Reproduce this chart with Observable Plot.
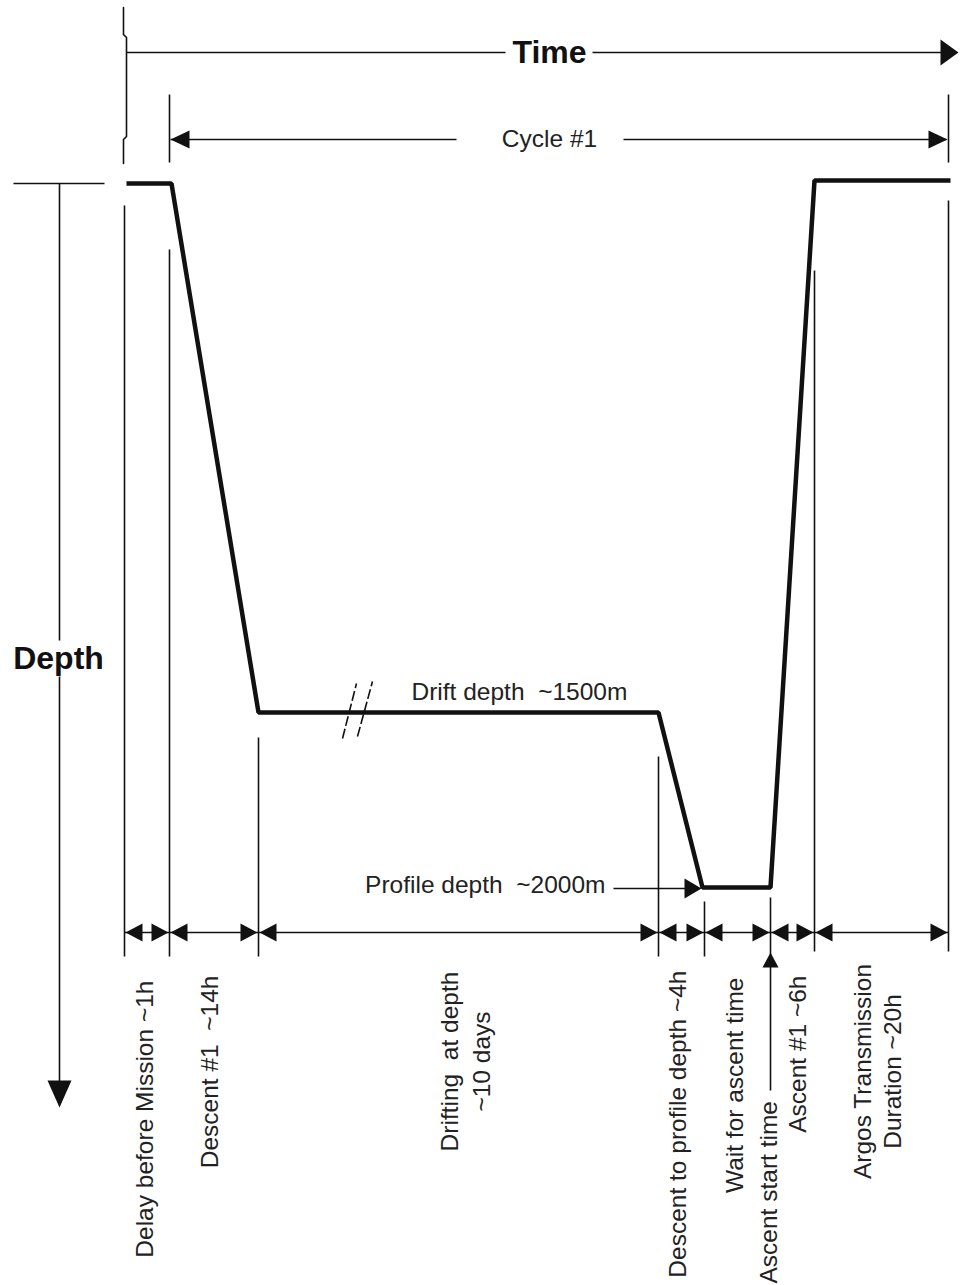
<!DOCTYPE html>
<html><head><meta charset="utf-8">
<script src="https://cdn.jsdelivr.net/npm/d3@7"></script>
<script src="https://cdn.jsdelivr.net/npm/@observablehq/plot@0.6"></script>
<style>body{margin:0;background:#fff} svg{display:block}</style>
</head><body><div id="chart"></div>
<script>
// ---- data (diagram units: time runs along x, depth along y) ----
const boundaries      = [124, 169, 258, 658, 704, 770, 814, 948];
const boundaryTops    = [205, 249, 737, 756, 901, 897, 270, 200];
const boundaryBottoms = [956, 956, 956, 956, 956, 956, 951, 951];
const rowY = 932; // duration arrows row

const profileTime  = [126, 171, 258, 658, 702, 770, 814, 950];
const profileDepth = [183, 183, 712, 712, 887, 887, 180, 180];

const phaseTexts   = ["Delay before Mission ~1h", "Descent #1  ~14h", "Drifting  at depth", "~10 days",
                      "Descent to profile depth ~4h", "Wait for ascent time", "Ascent start time",
                      "Ascent #1 ~6h", "Argos Transmission", "Duration ~20h"];
const phaseTextX   = [145, 210, 450, 482, 678, 735, 769, 798, 863, 893];
const phaseTextY   = [980, 975, 1061, 1061, 970, 977, 1283, 975, 1071, 1071];
const phaseAnchors = ["end", "end", "middle", "middle", "end", "end", "start", "end", "middle", "middle"];

const timeSegments  = [[126, 505], [592, 945]];   // y = 52
const cycleSegments = [[170, 456], [623, 946]];   // y = 139
const depthSegments = [[183, 640], [676, 1085]];  // x = 59
const bracket = [[123, 7], [123, 34], [126, 37], [126, 136], [123, 139], [123, 163]];
const breakMarks = [[342, 738, 356, 683], [357, 736, 372, 681]];

// ---- arrowhead symbols (tip at origin) ----
function head(dir, len, half) {
  return {draw(ctx) {
    const pts = {
      right: [[0,0],[-len,-half],[-len,half]],
      left:  [[0,0],[len,-half],[len,half]],
      up:    [[0,0],[-half,len],[half,len]],
      down:  [[0,0],[-half,-len],[half,-len]]
    }[dir];
    ctx.moveTo(pts[0][0], pts[0][1]);
    ctx.lineTo(pts[1][0], pts[1][1]);
    ctx.lineTo(pts[2][0], pts[2][1]);
    ctx.closePath();
  }};
}

const ink = "#111";
const font = "'Liberation Sans', Arial, sans-serif";
const fs = 24.5;

const labels = phaseTexts.map((t, i) => ({text: t, x: phaseTextX[i], y: phaseTextY[i], anchor: phaseAnchors[i]}));
const pairs = d3.pairs(boundaries).map(([a, b]) => ({a, b}));
const verticals = boundaries.map((x, i) => ({x, y1: boundaryTops[i], y2: boundaryBottoms[i]}));
const profile = profileTime.map((x, i) => ({x, y: profileDepth[i]}));

const hline = (segs, y) => segs.map(([x1, x2]) => ({x1, x2, y1: y, y2: y}));
const linkOpts = {x1: "x1", x2: "x2", y1: "y1", y2: "y2", stroke: ink, strokeWidth: 1.6};

const marks = [
  // top "Time" arrow
  Plot.link(hline(timeSegments, 52), linkOpts),
  Plot.dot([{x: 958, y: 52}], {x: "x", y: "y", symbol: head("right", 18, 13), fill: ink, stroke: null}),
  Plot.text(["Time"], {x: 549, y: 52, text: d => d, fontSize: 32, fontWeight: "bold", fontFamily: font, fill: ink}),
  Plot.line(bracket, {x: d => d[0], y: d => d[1], stroke: ink, strokeWidth: 1.6}),

  // Cycle #1
  Plot.link(hline(cycleSegments, 139), linkOpts),
  Plot.link([169, 948].map(x => ({x1: x, x2: x, y1: 94, y2: 162})), linkOpts),
  Plot.dot([{x: 170, y: 139}], {x: "x", y: "y", symbol: head("left", 19, 9), fill: ink, stroke: null}),
  Plot.dot([{x: 947, y: 139}], {x: "x", y: "y", symbol: head("right", 19, 9), fill: ink, stroke: null}),
  Plot.text(["Cycle #1"], {x: 549, y: 139, text: d => d, fontSize: fs, fontFamily: font, fill: "#222"}),

  // Depth axis
  Plot.link([{x1: 13, x2: 104, y1: 183, y2: 183}], linkOpts),
  Plot.link(depthSegments.map(([y1, y2]) => ({x1: 59, x2: 59, y1, y2})), linkOpts),
  Plot.dot([{x: 59, y: 1107}], {x: "x", y: "y", symbol: head("down", 27, 12), fill: ink, stroke: null}),
  Plot.text(["Depth"], {x: 58, y: 658, text: d => d, fontSize: 32, fontWeight: "bold", fontFamily: font, fill: ink}),

  // phase boundaries
  Plot.link(verticals, {x1: "x", x2: "x", y1: "y1", y2: "y2", stroke: ink, strokeWidth: 1.6}),

  // duration arrows
  Plot.link(pairs, {x1: "a", x2: "b", y1: rowY, y2: rowY, stroke: ink, strokeWidth: 1.6}),
  Plot.dot(pairs, {x: d => d.a + 1, y: rowY, symbol: head("left", 17, 9), fill: ink, stroke: null}),
  Plot.dot(pairs, {x: d => d.b - 1, y: rowY, symbol: head("right", 17, 9), fill: ink, stroke: null}),

  // float trajectory
  Plot.line(profile, {x: "x", y: "y", stroke: ink, strokeWidth: 4.5, strokeLinejoin: "miter", strokeLinecap: "butt", curve: "linear"}),
  Plot.link(breakMarks.map(([x1, y1, x2, y2]) => ({x1, y1, x2, y2})), {...linkOpts, strokeDasharray: "10,3"}),
  Plot.text(["Drift depth  ~1500m"], {x: 411, y: 692, text: d => d, textAnchor: "start", fontSize: fs, fontFamily: font, fill: "#222"}),
  Plot.text(["Profile depth  ~2000m"], {x: 605, y: 885, text: d => d, textAnchor: "end", fontSize: fs, fontFamily: font, fill: "#222"}),
  Plot.link([{x1: 613, x2: 690, y1: 888, y2: 888}], linkOpts),
  Plot.dot([{x: 701, y: 888}], {x: "x", y: "y", symbol: head("right", 17, 10), fill: ink, stroke: null}),

  // ascent start time arrow
  Plot.link([{x1: 770, x2: 770, y1: 1090, y2: 962}], linkOpts),
  Plot.dot([{x: 770, y: 952}], {x: "x", y: "y", symbol: head("up", 15, 8), fill: ink, stroke: null})
];

for (const anchor of ["start", "middle", "end"]) {
  marks.push(Plot.text(labels.filter(d => d.anchor === anchor), {
    x: "x", y: "y", text: "text", rotate: -90, textAnchor: anchor,
    fontSize: fs, fontFamily: font, fill: "#222"
  }));
}

const chart = Plot.plot({
  width: 963, height: 1285,
  margin: 0,
  x: {type: "linear", domain: [0, 963], range: [0, 963], axis: null},
  y: {type: "linear", domain: [0, 1285], range: [0, 1285], axis: null},
  style: {background: "#fff"},
  marks
});
document.getElementById("chart").appendChild(chart);
</script>
</body></html>
